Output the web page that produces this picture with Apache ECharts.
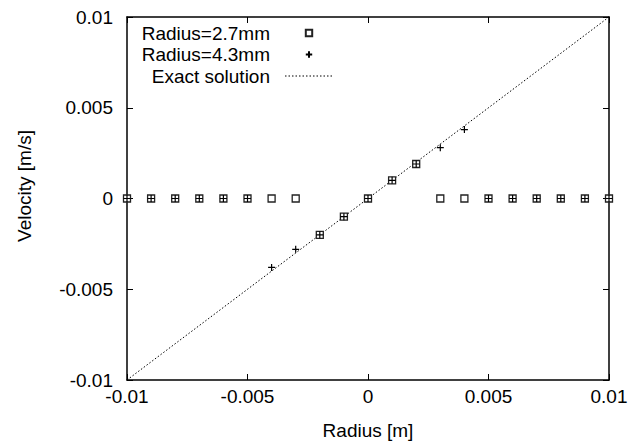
<!DOCTYPE html>
<html><head><meta charset="utf-8">
<script src="https://cdn.jsdelivr.net/npm/echarts@6/dist/echarts.min.js"></script>
<style>html,body{margin:0;padding:0;background:#fff}#c{width:636px;height:445px}</style>
</head><body><div id="c"></div>
<script>
const radiusX = [-0.01,-0.009,-0.008,-0.007,-0.006,-0.005,-0.004,-0.003,-0.002,-0.001,0,0.001,0.002,0.003,0.004,0.005,0.006,0.007,0.008,0.009,0.01];
const vel27 = [0,0,0,0,0,0,0,0,-0.002,-0.001,0,0.001,0.0019,0,0,0,0,0,0,0,0];
const vel43 = [0,0,0,0,0,0,-0.0038,-0.0028,-0.002,-0.001,0,0.001,0.0019,0.0028,0.0038,0,0,0,0,0,0];
const exactX = [-0.01, 0.01];
const exactY = [-0.01, 0.01];
const names = ['Radius=2.7mm','Radius=4.3mm','Exact solution'];

const FONT = 'Liberation Sans';
const FS = 19;
const pair = (xs, ys) => xs.map((x,i)=>[x, ys[i]]);
const chart = echarts.init(document.getElementById('c'), null, {renderer:'svg'});
const axisCommon = {
  type:'value', min:-0.01, max:0.01, interval:0.005,
  axisLine:{show:true, onZero:false, lineStyle:{color:'#000', width:1.5}},
  axisTick:{show:true, inside:true, length:6, lineStyle:{color:'#000', width:1}},
  splitLine:{show:false}
};
const fmt = v => String(v);
chart.setOption({
  animation:false,
  grid:{left:127, right:27, top:17, bottom:65},
  legend:{
    orient:'vertical', left:130, top:22.5, padding:0, itemGap:0.5,
    itemWidth:48, itemHeight:8, align:'right', selectedMode:false,
    textStyle:{fontFamily:FONT, fontSize:FS, color:'#000', width:140, align:'right', padding:[0,10,0,0], lineHeight:21},
    data:[
      {name:names[0], lineStyle:{opacity:0}},
      {name:names[1], lineStyle:{opacity:0}},
      {name:names[2], itemStyle:{opacity:0}, lineStyle:{width:1, type:[1.5,2], color:'#000'}}
    ]
  },
  xAxis:[
    Object.assign({}, axisCommon, {position:'bottom',
      axisLabel:{fontFamily:FONT, fontSize:FS, color:'#000', margin:7, formatter:fmt},
      name:'Radius [m]', nameLocation:'middle', nameGap:41,
      nameTextStyle:{fontFamily:FONT, fontSize:FS, color:'#000'}}),
    Object.assign({}, axisCommon, {position:'top', axisLabel:{show:false}})
  ],
  yAxis:[
    Object.assign({}, axisCommon, {position:'left',
      axisLabel:{fontFamily:FONT, fontSize:FS, color:'#000', margin:14, formatter:fmt},
      name:'Velocity [m/s]', nameLocation:'middle', nameGap:93, nameRotate:90,
      nameTextStyle:{fontFamily:FONT, fontSize:FS, color:'#000', padding:[0,0,0,25]}}),
    Object.assign({}, axisCommon, {position:'right', axisLabel:{show:false}})
  ],
  series:[
    {name:names[2], type:'line', data:pair(exactX, exactY), symbol:'none',
      itemStyle:{opacity:0},
      lineStyle:{color:'#000', width:1, type:[1.5,2]}, z:1},
    {name:names[0], type:'line', data:pair(radiusX, vel27), symbol:'rect', symbolSize:7,
      itemStyle:{color:'#fff', borderColor:'#222', borderWidth:1.3},
      lineStyle:{opacity:0}, z:2},
    {name:names[1], type:'line', data:pair(radiusX, vel43),
      symbol:'path://M0,5L10,5M5,0L5,10', symbolSize:7,
      itemStyle:{color:'#000', borderColor:'#000', borderWidth:1.2},
      lineStyle:{opacity:0}, z:3}
  ]
});
</script></body></html>
